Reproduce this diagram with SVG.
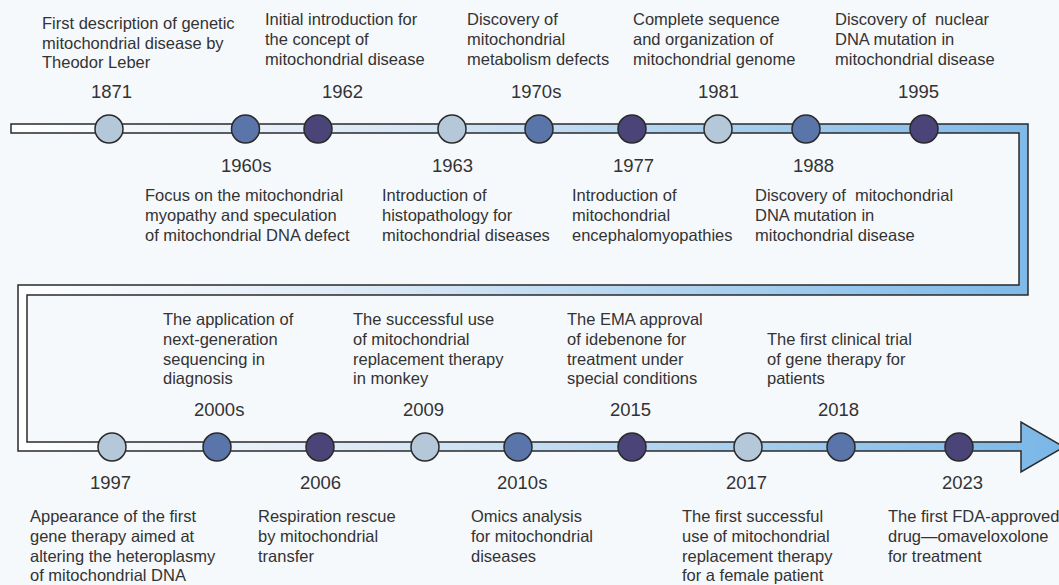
<svg xmlns="http://www.w3.org/2000/svg" width="1059" height="585" viewBox="0 0 1059 585">
  <style>
    .desc { font-family: "Liberation Sans", Arial, sans-serif; font-size: 16.5px; fill: #333333; white-space: pre; }
    .year { font-family: "Liberation Sans", Arial, sans-serif; font-size: 18.5px; fill: #333333; }
    .dot { stroke: #2a2a2a; stroke-width: 1.5; }
    .light { fill: #b4c8d9; }
    .mid { fill: #5975a9; }
    .dark { fill: #4b4478; }
  </style>
  <defs>
    <linearGradient id="bandFill" gradientUnits="userSpaceOnUse" x1="11" y1="0" x2="1059" y2="0">
      <stop offset="0" stop-color="#ffffff"/>
      <stop offset="0.3" stop-color="#e1ecf7"/>
      <stop offset="1" stop-color="#7ab7e7"/>
    </linearGradient>
  </defs>

  <rect x="0" y="0" width="1059" height="585" fill="#f6f9fc"/>

  <!-- serpentine timeline band with arrowhead -->
  <g id="connectors">
    <path d="M 11 124 H 1028 V 295 H 27 V 442 H 1021 V 422 L 1064 447 L 1021 472 V 451 H 18 V 285 H 1019 V 133 H 11 Z"
          fill="url(#bandFill)" stroke="#2a2a2a" stroke-width="1.5" stroke-linejoin="miter"/>
  </g>

  <!-- upper row -->
  <g id="n1871">
    <circle class="dot light" cx="109" cy="129" r="14"/>
    <text class="year" x="91" y="98">1871</text>
    <text class="desc" x="42" y="28.5">First description of genetic</text>
    <text class="desc" x="42" y="48.5">mitochondrial disease by</text>
    <text class="desc" x="42" y="68">Theodor Leber</text>
  </g>
  <g id="n1960s">
    <circle class="dot mid" cx="245.5" cy="129" r="14"/>
    <text class="year" x="221" y="172">1960s</text>
    <text class="desc" x="145" y="201">Focus on the mitochondrial</text>
    <text class="desc" x="145" y="221">myopathy and speculation</text>
    <text class="desc" x="145" y="241">of mitochondrial DNA defect</text>
  </g>
  <g id="n1962">
    <circle class="dot dark" cx="318" cy="129" r="14"/>
    <text class="year" x="322" y="98">1962</text>
    <text class="desc" x="265" y="25">Initial introduction for</text>
    <text class="desc" x="265" y="45">the concept of</text>
    <text class="desc" x="265" y="65">mitochondrial disease</text>
  </g>
  <g id="n1963">
    <circle class="dot light" cx="452" cy="129" r="14"/>
    <text class="year" x="432" y="172">1963</text>
    <text class="desc" x="382" y="201">Introduction of</text>
    <text class="desc" x="382" y="221">histopathology for</text>
    <text class="desc" x="382" y="241">mitochondrial diseases</text>
  </g>
  <g id="n1970s">
    <circle class="dot mid" cx="539" cy="129" r="14"/>
    <text class="year" x="511" y="98">1970s</text>
    <text class="desc" x="467" y="25">Discovery of</text>
    <text class="desc" x="467" y="45">mitochondrial</text>
    <text class="desc" x="467" y="65">metabolism defects</text>
  </g>
  <g id="n1977">
    <circle class="dot dark" cx="632" cy="129" r="14"/>
    <text class="year" x="613" y="172">1977</text>
    <text class="desc" x="572" y="201">Introduction of</text>
    <text class="desc" x="572" y="221">mitochondrial</text>
    <text class="desc" x="572" y="241">encephalomyopathies</text>
  </g>
  <g id="n1981">
    <circle class="dot light" cx="718" cy="129" r="14"/>
    <text class="year" x="698" y="98">1981</text>
    <text class="desc" x="633" y="25">Complete sequence</text>
    <text class="desc" x="633" y="45">and organization of</text>
    <text class="desc" x="633" y="65">mitochondrial genome</text>
  </g>
  <g id="n1988">
    <circle class="dot mid" cx="806" cy="129" r="14"/>
    <text class="year" x="793" y="172">1988</text>
    <text class="desc" x="755" y="201" xml:space="preserve">Discovery of  mitochondrial</text>
    <text class="desc" x="755" y="221">DNA mutation in</text>
    <text class="desc" x="755" y="241">mitochondrial disease</text>
  </g>
  <g id="n1995">
    <circle class="dot dark" cx="924" cy="129" r="14"/>
    <text class="year" x="898" y="98">1995</text>
    <text class="desc" x="835" y="25" xml:space="preserve">Discovery of  nuclear</text>
    <text class="desc" x="835" y="45">DNA mutation in</text>
    <text class="desc" x="835" y="65">mitochondrial disease</text>
  </g>

  <!-- lower row -->
  <g id="n1997">
    <circle class="dot light" cx="112" cy="447" r="14"/>
    <text class="year" x="90" y="489">1997</text>
    <text class="desc" x="30" y="522">Appearance of the first</text>
    <text class="desc" x="30" y="542">gene therapy aimed at</text>
    <text class="desc" x="30" y="561.5">altering the heteroplasmy</text>
    <text class="desc" x="30" y="581">of mitochondrial DNA</text>
  </g>
  <g id="n2000s">
    <circle class="dot mid" cx="217" cy="447" r="14"/>
    <text class="year" x="194" y="416">2000s</text>
    <text class="desc" x="163" y="325">The application of</text>
    <text class="desc" x="163" y="345">next-generation</text>
    <text class="desc" x="163" y="364.5">sequencing in</text>
    <text class="desc" x="163" y="384">diagnosis</text>
  </g>
  <g id="n2006">
    <circle class="dot dark" cx="320" cy="447" r="14"/>
    <text class="year" x="300" y="489">2006</text>
    <text class="desc" x="258" y="522">Respiration rescue</text>
    <text class="desc" x="258" y="542">by mitochondrial</text>
    <text class="desc" x="258" y="561.5">transfer</text>
  </g>
  <g id="n2009">
    <circle class="dot light" cx="425" cy="447" r="14"/>
    <text class="year" x="403" y="416">2009</text>
    <text class="desc" x="353" y="325">The successful use</text>
    <text class="desc" x="353" y="345">of mitochondrial</text>
    <text class="desc" x="353" y="364.5">replacement therapy</text>
    <text class="desc" x="353" y="384">in monkey</text>
  </g>
  <g id="n2010s">
    <circle class="dot mid" cx="518" cy="447" r="14"/>
    <text class="year" x="497" y="489">2010s</text>
    <text class="desc" x="471" y="522">Omics analysis</text>
    <text class="desc" x="471" y="542">for mitochondrial</text>
    <text class="desc" x="471" y="561.5">diseases</text>
  </g>
  <g id="n2015">
    <circle class="dot dark" cx="632" cy="447" r="14"/>
    <text class="year" x="610" y="416">2015</text>
    <text class="desc" x="567" y="325">The EMA approval</text>
    <text class="desc" x="567" y="345">of idebenone for</text>
    <text class="desc" x="567" y="364.5">treatment under</text>
    <text class="desc" x="567" y="384">special conditions</text>
  </g>
  <g id="n2017">
    <circle class="dot light" cx="748" cy="447" r="14"/>
    <text class="year" x="726" y="489">2017</text>
    <text class="desc" x="682" y="522">The first successful</text>
    <text class="desc" x="682" y="542">use of mitochondrial</text>
    <text class="desc" x="682" y="561.5">replacement therapy</text>
    <text class="desc" x="682" y="581">for a female patient</text>
  </g>
  <g id="n2018">
    <circle class="dot mid" cx="841" cy="447" r="14"/>
    <text class="year" x="818" y="416">2018</text>
    <text class="desc" x="767" y="345">The first clinical trial</text>
    <text class="desc" x="767" y="364.5">of gene therapy for</text>
    <text class="desc" x="767" y="384">patients</text>
  </g>
  <g id="n2023">
    <circle class="dot dark" cx="959" cy="447" r="14"/>
    <text class="year" x="942" y="489">2023</text>
    <text class="desc" x="888" y="522">The first FDA-approved</text>
    <text class="desc" x="888" y="542">drug—omaveloxolone</text>
    <text class="desc" x="888" y="561.5">for treatment</text>
  </g>
</svg>
